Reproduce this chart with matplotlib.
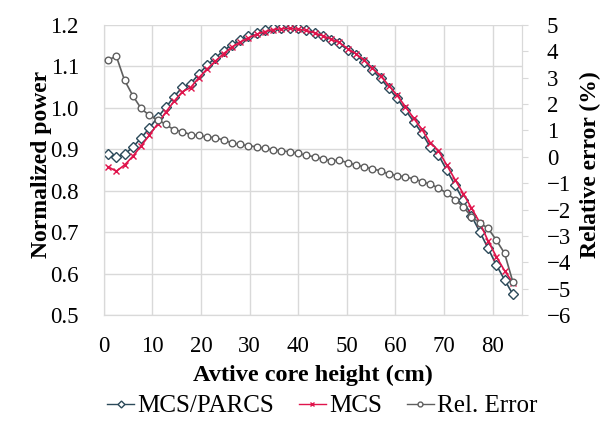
import matplotlib
matplotlib.use('Agg')
import matplotlib.pyplot as plt
from matplotlib.lines import Line2D

plt.rcParams['font.family'] = ['Liberation Serif', 'DejaVu Serif']

# axial node centres (cm)
height = [0.85, 2.55, 4.25, 5.95, 7.65, 9.35, 11.05, 12.75, 14.45, 16.15,
          17.85, 19.55, 21.25, 22.95, 24.65, 26.35, 28.05, 29.75, 31.45, 33.15,
          34.85, 36.55, 38.25, 39.95, 41.65, 43.35, 45.05, 46.75, 48.45, 50.15,
          51.85, 53.55, 55.25, 56.95, 58.65, 60.35, 62.05, 63.75, 65.45, 67.15,
          68.85, 70.55, 72.25, 73.95, 75.65, 77.35, 79.05, 80.75, 82.45, 84.15]

mcs_parcs = [0.889, 0.881, 0.888, 0.905, 0.927, 0.951, 0.977, 1.001, 1.027, 1.050,
             1.058, 1.082, 1.103, 1.121, 1.138, 1.153, 1.164, 1.174, 1.182, 1.188,
             1.192, 1.194, 1.194, 1.192, 1.187, 1.180, 1.173, 1.164, 1.156, 1.140,
             1.128, 1.111, 1.091, 1.071, 1.047, 1.023, 0.995, 0.967, 0.939, 0.906,
             0.886, 0.850, 0.814, 0.777, 0.739, 0.701, 0.661, 0.621, 0.585, 0.550]

mcs = [0.858, 0.847, 0.862, 0.883, 0.908, 0.934, 0.961, 0.990, 1.016, 1.039,
       1.049, 1.073, 1.094, 1.113, 1.131, 1.147, 1.159, 1.169, 1.178, 1.184,
       1.189, 1.191, 1.192, 1.190, 1.187, 1.181, 1.174, 1.166, 1.158, 1.143,
       1.131, 1.115, 1.096, 1.077, 1.054, 1.030, 1.003, 0.975, 0.948, 0.916,
       0.897, 0.862, 0.827, 0.793, 0.758, 0.723, 0.679, 0.641, 0.607, 0.578]

rel_error = [3.67, 3.82, 2.91, 2.32, 1.84, 1.57, 1.41, 1.23, 1.02, 0.96,
             0.84, 0.81, 0.75, 0.73, 0.63, 0.53, 0.47, 0.42, 0.38, 0.32,
             0.26, 0.23, 0.19, 0.13, 0.06, 0.00, -0.08, -0.15, -0.13, -0.22,
             -0.31, -0.38, -0.46, -0.53, -0.66, -0.71, -0.77, -0.83, -0.94, -1.04,
             -1.18, -1.38, -1.62, -1.90, -2.27, -2.51, -2.71, -3.16, -3.66, -4.74]

x_ticks = [0, 10, 20, 30, 40, 50, 60, 70, 80]
left_ticks = [0.5, 0.6, 0.7, 0.8, 0.9, 1.0, 1.1, 1.2]
right_ticks = [-6, -5, -4, -3, -2, -1, 0, 1, 2, 3, 4, 5]

fig = plt.figure(figsize=(6.11, 4.32), dpi=100)
ax = fig.add_axes([0.170, 0.271, 0.684, 0.671])
ax2 = ax.twinx()

grid_c = '#d9d9d9'
c_parcs = '#2c4a5a'
c_mcs = '#e0144c'
c_err = '#5f5f5f'

ax.plot(height, mcs_parcs, color=c_parcs, lw=1.2, marker='D', ms=4.6,
        mfc='white', mec=c_parcs, mew=1.0, zorder=3)
ax.plot(height, mcs, color=c_mcs, lw=1.2, marker='x', ms=4.5,
        mec=c_mcs, mew=1.0, zorder=4)
ax2.plot(height, rel_error, color=c_err, lw=1.2, marker='o', ms=4.8,
         mfc='white', mec=c_err, mew=1.0, zorder=3)

ax.set_xlim(0, 86)
ax.set_ylim(0.5, 1.2)
ax2.set_ylim(-6, 5)
ax.set_xticks(x_ticks)
ax.set_yticks(left_ticks)
ax.set_yticklabels([f'{v:.1f}' for v in left_ticks])
ax2.set_yticks(right_ticks)

ax.grid(True, color=grid_c, lw=1.0)
ax.set_axisbelow(True)
for a in (ax, ax2):
    for s in a.spines.values():
        s.set_color(grid_c)
    a.spines['top'].set_visible(False)

ax.tick_params(axis='x', length=0, labelsize=16.5, pad=15)
ax.tick_params(axis='y', length=0, labelsize=16.5, pad=18)
ax2.tick_params(axis='y', length=4, color=grid_c, labelsize=16.5, pad=14)

ax.set_xlabel('Avtive core height (cm)', fontsize=17.5, fontweight='bold')
ax.set_ylabel('Normalized power', fontsize=17, fontweight='bold')
ax2.set_ylabel('Relative error (%)', fontsize=17, fontweight='bold')
ax.xaxis.set_label_coords(0.5, -0.172)
ax.yaxis.set_label_coords(-0.125, 0.52)
ax2.yaxis.set_label_coords(1.14, 0.52)

handles = [
    Line2D([], [], color=c_parcs, lw=1.0, marker='D', ms=3.5, mfc='white', mec=c_parcs),
    Line2D([], [], color=c_mcs, lw=1.0, marker='x', ms=3.5, mec=c_mcs),
    Line2D([], [], color=c_err, lw=1.0, marker='o', ms=3.5, mfc='white', mec=c_err),
]
fig.legend(handles, ['MCS/PARCS', 'MCS', 'Rel. Error'], loc='center',
           bbox_to_anchor=(0.527, 0.060), ncol=3, frameon=False, fontsize=18,
           handlelength=1.1, handletextpad=0.1, columnspacing=1.0)

fig.savefig('out.png', dpi=100)
